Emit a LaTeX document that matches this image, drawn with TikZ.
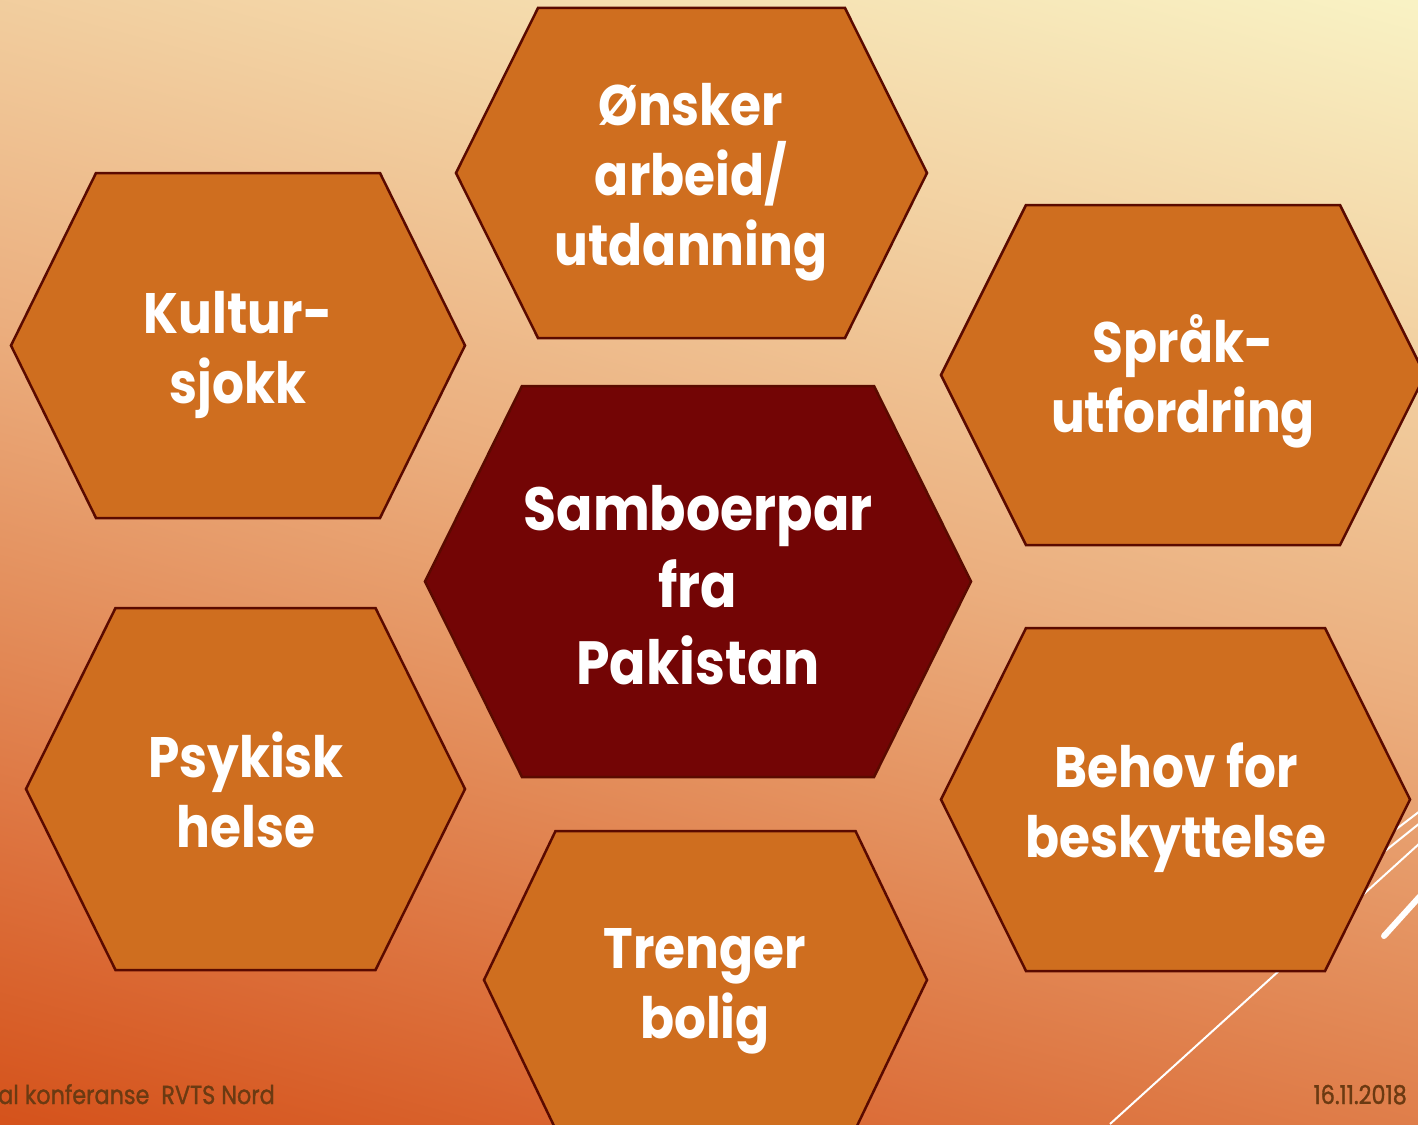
\documentclass[tikz,border=0pt]{standalone}
\usepackage{fontspec}
\newfontfamily\hexfont[FakeStretch=0.88]{Poppins}
\newfontfamily\footfont[FakeStretch=0.86,FakeBold=1.2]{Poppins}
\definecolor{bgtop}{HTML}{F9F2C4}
\definecolor{bgmid}{HTML}{EBAE7E}
\definecolor{bgbot}{HTML}{D5531C}
\definecolor{hexfill}{HTML}{CF6E1F}
\definecolor{hexline}{HTML}{5A0A00}
\definecolor{corefill}{HTML}{730505}
\definecolor{foot}{HTML}{6B3A12}
\pgfdeclareverticalshading{bgsh}{100bp}{color(0bp)=(bgbot); color(20bp)=(bgbot); color(52bp)=(bgmid); color(80bp)=(bgtop); color(100bp)=(bgtop)}
\newcommand\toprule[1]{\rule{0pt}{#1}}
\newcommand\botrule[1]{\rule[-#1]{0pt}{#1}}
\tikzset{
  hexshape/.style={draw=hexline, line width=2.5pt, fill=hexfill, line join=miter},
  coreshape/.style={draw=hexline, line width=2.5pt, fill=corefill, line join=miter},
  hextext/.style={text=white, align=center, inner sep=0pt, font=\hexfont\bfseries\fontsize{57}{70}\selectfont},
  coretext/.style={text=white, align=center, inner sep=0pt, font=\hexfont\bfseries\fontsize{61}{77}\selectfont},
  foottext/.style={text=foot, inner sep=0pt, font=\footfont\fontsize{26}{30}\selectfont},
  thinline/.style={draw=white, line width=2pt},
  thickline/.style={draw=white, line width=6pt, line cap=round},
}
\newcommand\hexpath[6]{% style cx cy w t h
  \path[#1] ({#2-#4},#3) -- ({#2-#5},{#3-#6}) -- ({#2+#5},{#3-#6}) -- ({#2+#4},#3) -- ({#2+#5},{#3+#6}) -- ({#2-#5},{#3+#6}) -- cycle;}
\begin{document}
\begin{tikzpicture}[x=1pt,y=-1pt]
\useasboundingbox (0,0) rectangle (1418,1124);
\clip (0,0) rectangle (1418,1124);
\shade[shading=bgsh, shading angle=-15] (-10,-10) rectangle (1428,1134);
% decorative white lines
\coordinate (l1a) at (1110,1124); \coordinate (l1b) at (1420,843);
\coordinate (l2a) at (1340,887); \coordinate (l2b) at (1420,823);
\coordinate (l3a) at (1340,872); \coordinate (l3b) at (1420,811);
\coordinate (l4a) at (1384,936); \coordinate (l4b) at (1422,894);
\draw[thinline] (l1a) -- (l1b);
\draw[thinline] (l2a) -- (l2b);
\draw[thinline] (l3a) -- (l3b);
\draw[thickline] (l4a) -- (l4b);
% hexagons
\hexpath{hexshape}{691.5}{173}{235.5}{153.5}{165}
\hexpath{hexshape}{238}{345.5}{227}{142}{172.5}
\hexpath{hexshape}{1183}{375}{242}{157}{170}
\hexpath{hexshape}{245.5}{789}{219.5}{130}{181}
\hexpath{hexshape}{1175.5}{799.5}{234.5}{149.5}{171.5}
\hexpath{hexshape}{705.5}{980}{221.5}{150}{149}
\hexpath{coreshape}{698}{581.5}{273}{176}{195.5}
% texts
\node[hextext] (onsker) at (691,{(125+265)/2-17.5}) {\toprule{60pt}Ønsker\\arbeid/\\utdanning\botrule{25pt}};
\node[hextext] (kultur) at (238,{(334+403)/2-17.5}) {\toprule{60pt}Kultur-\\sjokk\botrule{25pt}};
\node[hextext] (sprak) at (1183,{(362+432)/2-17.5}) {\toprule{60pt}Språk-\\utfordring\botrule{25pt}};
\node[coretext] (core) at (698,{(530+684)/2-17.5}) {\toprule{60pt}Samboerpar\\fra\\Pakistan\botrule{25pt}};
\node[hextext] (psykisk) at (246,{(777+847)/2-17.5}) {\toprule{60pt}Psykisk\\helse\botrule{25pt}};
\node[hextext] (behov) at (1176,{(787+857)/2-17.5}) {\toprule{60pt}Behov for\\beskyttelse\botrule{25pt}};
\node[hextext] (trenger) at (705,{(968+1038)/2-17.5}) {\toprule{60pt}Trenger\\bolig\botrule{25pt}};
% footer
\node[foottext, anchor=base west] (footl) at (-2,1104) {al konferanse\ \ RVTS Nord};
\node[foottext, anchor=base east] (footr) at (1407,1104) {16.11.2018};
\end{tikzpicture}
\end{document}
